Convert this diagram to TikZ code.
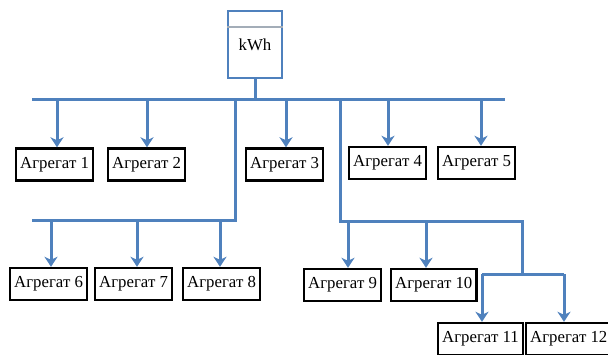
\documentclass[tikz,border=0pt]{standalone}
\usepackage{fontspec}
\setmainfont{Liberation Serif}
\usetikzlibrary{arrows.meta,calc}
\definecolor{BusBlue}{HTML}{4F81BD}
\definecolor{MeterLine}{HTML}{A3ADB8}

\begin{document}
\begin{tikzpicture}[
  x=1pt, y=-1pt,
  font=\fontsize{16.8}{20}\selectfont,
  unit/.style={draw, line width=2.4pt, fill=white, inner xsep=4pt, minimum height=32pt, anchor=west},
  meter/.style={draw=BusBlue, line width=2.4pt, fill=white, minimum width=54pt, minimum height=67pt},
  bus/.style={BusBlue, line width=3pt},
  feed/.style={BusBlue, line width=3pt, -{Stealth[length=10pt,width=13pt,inset=3pt]}}
]
  \useasboundingbox (0,0) rectangle (608,354);
  \clip (0,0) rectangle (608,354);

  \node[meter] (kwh) at (255,44.5) {kWh};
  \draw[MeterLine, line width=1.6pt] ([yshift=-17pt]kwh.north west) -- ([yshift=-17pt]kwh.north east);

  \node[unit] (a1) at (15,164.5) {Агрегат 1};
  \node[unit] (a2) at (107,164.5) {Агрегат 2};
  \node[unit] (a3) at (245,164.5) {Агрегат 3};
  \node[unit] (a4) at (348,163) {Агрегат 4};
  \node[unit] (a5) at (437,163) {Агрегат 5};
  \node[unit] (a6) at (9,284) {Агрегат 6};
  \node[unit] (a7) at (94,284) {Агрегат 7};
  \node[unit] (a8) at (182,284) {Агрегат 8};
  \node[unit] (a9) at (303,285) {Агрегат 9};
  \node[unit] (a10) at (390,285) {Агрегат 10};
  \node[unit] (a11) at (437,339) {Агрегат 11};
  \node[unit] (a12) at (525,339) {Агрегат 12};

  \coordinate (top) at (32,99);
  \coordinate (topend) at (505,99);
  \coordinate (left) at (235,220);
  \coordinate (leftend) at (32,220);
  \coordinate (right) at (340,221);
  \coordinate (rightend) at (522,221);
  \coordinate (sub) at (522,274);
  \coordinate (subl) at (482,274);
  \coordinate (subr) at (564,274);

  \draw[bus] (top) -- (topend);
  \draw[bus] (kwh.south) -- (kwh.south |- top);
  \draw[bus] (left |- top) -- (left) -- (leftend);
  \draw[bus] (right |- top) -- (right) -- (rightend) -- (sub);
  \draw[bus] (subl) -- (subr);

  \draw[feed] (57,99) -- (57,148 |- a1.north);
  \draw[feed] (147,99) -- (147,148 |- a2.north);
  \draw[feed] (286,99) -- (286,148 |- a3.north);
  \draw[feed] (388,99) -- (388,148 |- a4.north);
  \draw[feed] (481,99) -- (481,148 |- a5.north);
  \draw[feed] (51,220) -- (51,268 |- a6.north);
  \draw[feed] (137,220) -- (137,268 |- a7.north);
  \draw[feed] (220,220) -- (220,268 |- a8.north);
  \draw[feed] (348,221) -- (348,268 |- a9.north);
  \draw[feed] (426,221) -- (426,268 |- a10.north);
  \draw[feed] (subl) -- (subl |- a11.north);
  \draw[feed] (subr) -- (subr |- a12.north);
\end{tikzpicture}
\end{document}
